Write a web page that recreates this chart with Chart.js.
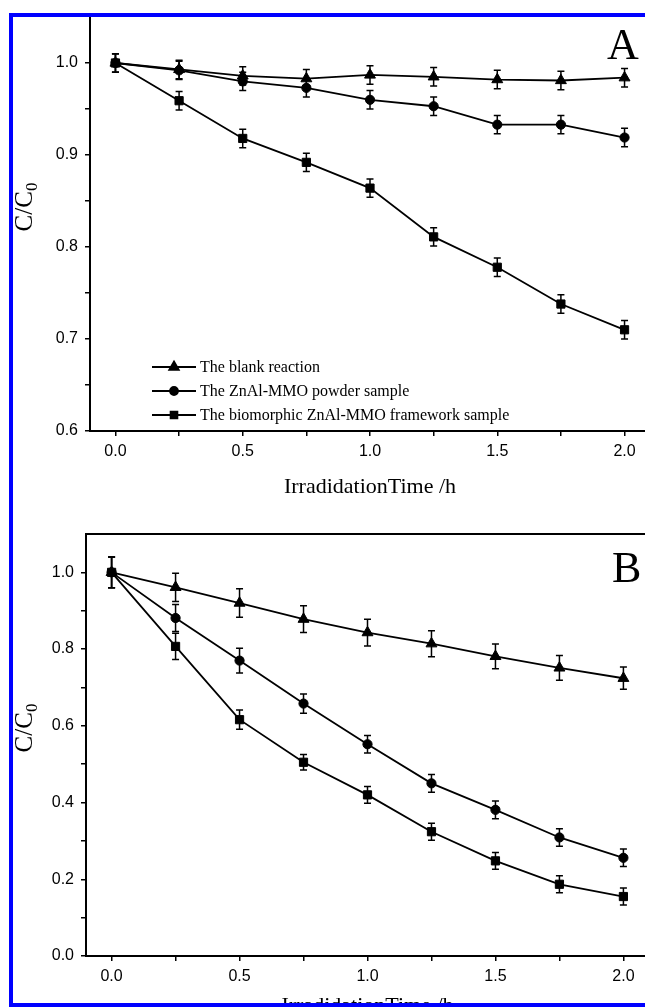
<!DOCTYPE html>
<html>
<head>
<meta charset="utf-8">
<script src="https://cdn.jsdelivr.net/npm/chart.js@4.4.1/dist/chart.umd.min.js"></script>
<style>
html, body { margin: 0; padding: 0; background: #fff; width: 645px; height: 1007px; overflow: hidden; }
canvas { position: absolute; left: 0; }
#chartA { top: 0; }
#chartB { top: 500px; }
#frame { position: absolute; left: 9px; top: 13px; width: 700px; height: 986px; border: 4px solid #0000ff; z-index: 5; pointer-events: none; }
</style>
</head>
<body>
<canvas id="chartA" width="660" height="520"></canvas>
<canvas id="chartB" width="660" height="520"></canvas>
<div id="frame"></div>
<script>
// ---- data ----
const timeH = [0, 0.25, 0.5, 0.75, 1.0, 1.25, 1.5, 1.75, 2.0];
const seriesNames = ['The blank reaction', 'The ZnAl-MMO powder sample', 'The biomorphic ZnAl-MMO framework sample'];

// panel A
const blankA  = [1.000, 0.993, 0.986, 0.983, 0.987, 0.985, 0.982, 0.981, 0.984];
const powderA = [1.000, 0.992, 0.980, 0.973, 0.960, 0.953, 0.933, 0.933, 0.919];
const bioA    = [1.000, 0.959, 0.918, 0.892, 0.864, 0.811, 0.778, 0.738, 0.710];
const errBlankA  = [0.010, 0.010, 0.010, 0.010, 0.010, 0.010, 0.010, 0.010, 0.010];
const errPowderA = [0.010, 0.010, 0.010, 0.010, 0.010, 0.010, 0.010, 0.010, 0.010];
const errBioA    = [0.010, 0.010, 0.010, 0.010, 0.010, 0.010, 0.010, 0.010, 0.010];

// panel B
const blankB  = [1.000, 0.961, 0.920, 0.878, 0.843, 0.814, 0.781, 0.751, 0.724];
const powderB = [1.000, 0.881, 0.770, 0.658, 0.552, 0.450, 0.381, 0.309, 0.256];
const bioB    = [1.000, 0.807, 0.616, 0.505, 0.420, 0.324, 0.248, 0.187, 0.155];
const errBlankB  = [0.040, 0.037, 0.037, 0.035, 0.035, 0.034, 0.032, 0.032, 0.029];
const errPowderB = [0.040, 0.035, 0.032, 0.025, 0.023, 0.023, 0.023, 0.023, 0.023];
const errBioB    = [0.040, 0.034, 0.025, 0.020, 0.022, 0.022, 0.022, 0.022, 0.022];

// ticks
const xTicks = [0, 0.25, 0.5, 0.75, 1.0, 1.25, 1.5, 1.75, 2.0];
const xTickLabels = ['0.0', '', '0.5', '', '1.0', '', '1.5', '', '2.0'];
const yTicksA = [0.6, 0.65, 0.7, 0.75, 0.8, 0.85, 0.9, 0.95, 1.0];
const yTickLabelsA = ['0.6', '', '0.7', '', '0.8', '', '0.9', '', '1.0'];
const yTicksB = [0, 0.1, 0.2, 0.3, 0.4, 0.5, 0.6, 0.7, 0.8, 0.9, 1.0];
const yTickLabelsB = ['0.0', '', '0.2', '', '0.4', '', '0.6', '', '0.8', '', '1.0'];

const markerStyles = ['triangle', 'circle', 'rect'];
const markerSizes = [6.3, 4.6, 5.8];
const legendSizes = [5.5, 4, 4.8];

// ---- decorations: error bars, legend, titles, panel letter ----
const paperDecor = {
    id: 'paperDecor',
    afterDatasetsDraw(chart, args, opts) {
        const { ctx, chartArea } = chart;
        const x = chart.scales.x, y = chart.scales.y;
        ctx.save();
        ctx.strokeStyle = '#000';
        ctx.fillStyle = '#000';

        // error bars
        ctx.lineWidth = 1.5;
        chart.data.datasets.forEach(ds => {
            ds.data.forEach((p, i) => {
                const e = ds.errors[i];
                const px = x.getPixelForValue(p.x);
                const top = y.getPixelForValue(p.y + e);
                const bot = y.getPixelForValue(p.y - e);
                ctx.beginPath();
                ctx.moveTo(px, top); ctx.lineTo(px, bot);
                ctx.moveTo(px - 3.5, top); ctx.lineTo(px + 3.5, top);
                ctx.moveTo(px - 3.5, bot); ctx.lineTo(px + 3.5, bot);
                ctx.stroke();
            });
        });

        // top frame line
        if (opts.topLine) {
            ctx.lineWidth = 2;
            ctx.beginPath();
            ctx.moveTo(chartArea.left - 1, chartArea.top);
            ctx.lineTo(chartArea.right + 1, chartArea.top);
            ctx.stroke();
        }

        // legend: line - marker - line, then text
        ctx.font = '16px "Liberation Serif"';
        ctx.textBaseline = 'middle';
        ctx.textAlign = 'left';
        chart.data.datasets.forEach((ds, i) => {
            const ly = opts.legendY + i * opts.legendGap;
            const lx = opts.legendX;
            ctx.lineWidth = 1.8;
            ctx.beginPath();
            ctx.moveTo(lx, ly); ctx.lineTo(lx + 44, ly);
            ctx.stroke();
            Chart.helpers.drawPoint(ctx, { pointStyle: markerStyles[i], radius: legendSizes[i], borderWidth: 1, rotation: 0 }, lx + 22, ly);
            ctx.fillText(ds.label, lx + 48, ly + 1);
        });

        // panel letter
        ctx.font = '44px "Liberation Serif"';
        ctx.textBaseline = 'alphabetic';
        ctx.fillText(opts.letter, opts.letterX, opts.letterY);

        // x title
        ctx.font = '22px "Liberation Serif"';
        ctx.textAlign = 'center';
        ctx.textBaseline = 'middle';
        ctx.fillText('IrradidationTime /h', (chartArea.left + chartArea.right) / 2, chartArea.bottom + opts.xTitleOffset);

        // y title C/C0 with subscript
        const cy = (chartArea.top + chartArea.bottom) / 2 - opts.yTitleShift;
        ctx.translate(opts.yTitleX, cy);
        ctx.rotate(-Math.PI / 2);
        ctx.textAlign = 'left';
        ctx.textBaseline = 'alphabetic';
        ctx.font = '25px "Liberation Serif"';
        const w1 = ctx.measureText('C/C').width;
        ctx.font = '17px "Liberation Serif"';
        const w2 = ctx.measureText('0').width;
        const start = -(w1 + w2) / 2;
        ctx.font = '25px "Liberation Serif"';
        ctx.fillText('C/C', start, 8);
        ctx.font = '17px "Liberation Serif"';
        ctx.fillText('0', start + w1, 13);
        ctx.restore();
    }
};

function makeDatasets(seriesList, errList) {
    return seriesList.map((vals, i) => ({
        label: seriesNames[i],
        data: timeH.map((t, j) => ({ x: t, y: vals[j] })),
        errors: errList[i],
        borderColor: '#000',
        backgroundColor: '#000',
        borderWidth: 1.8,
        tension: 0,
        pointStyle: markerStyles[i],
        pointRadius: markerSizes[i],
        pointBorderWidth: 1,
        pointBackgroundColor: '#000',
        pointBorderColor: '#000'
    }));
}

function makeChart(id, datasets, cfg) {
    const tickFont = { family: '"Liberation Sans"', size: 16 };
    return new Chart(document.getElementById(id), {
        type: 'line',
        data: { datasets: datasets },
        options: {
            responsive: false,
            animation: false,
            layout: { autoPadding: false, padding: { top: cfg.padTop, right: cfg.padRight, bottom: 0, left: 0 } },
            plugins: {
                legend: { display: false },
                tooltip: { enabled: false },
                paperDecor: cfg.decor
            },
            scales: {
                x: {
                    type: 'linear',
                    min: -0.1,
                    max: 2.1,
                    afterBuildTicks: s => { s.ticks = xTicks.map(v => ({ value: v })); },
                    afterFit: s => { s.height = cfg.xHeight; },
                    ticks: { color: '#000', font: tickFont, padding: 6, maxRotation: 0, autoSkip: false,
                             callback: (v, i) => xTickLabels[i] },
                    grid: { drawOnChartArea: false, drawTicks: true, tickLength: 5, color: '#000', lineWidth: 1.5 },
                    border: { display: true, color: '#000', width: 2 }
                },
                y: {
                    min: cfg.yMin,
                    max: cfg.yMax,
                    afterBuildTicks: s => { s.ticks = cfg.yTicks.map(v => ({ value: v })); },
                    afterFit: s => { s.width = cfg.yWidth; },
                    ticks: { color: '#000', font: tickFont, padding: 7, autoSkip: false,
                             callback: (v, i) => cfg.yLabels[i] },
                    grid: { drawOnChartArea: false, drawTicks: true, tickLength: 5, color: '#000', lineWidth: 1.5 },
                    border: { display: true, color: '#000', width: 2 }
                }
            }
        },
        plugins: [paperDecor]
    });
}

makeChart('chartA',
    makeDatasets([blankA, powderA, bioA], [errBlankA, errPowderA, errBioA]),
    {
        padTop: 17, padRight: 10, xHeight: 89, yWidth: 90,
        yMin: 0.6, yMax: 1.05, yTicks: yTicksA, yLabels: yTickLabelsA,
        decor: { legendX: 152, legendY: 367, legendGap: 24, letter: 'A', letterX: 607, letterY: 59,
                 xTitleOffset: 56, yTitleX: 24, yTitleShift: 17, topLine: false }
    });

makeChart('chartB',
    makeDatasets([blankB, powderB, bioB], [errBlankB, errPowderB, errBioB]),
    {
        padTop: 34, padRight: 11, xHeight: 64, yWidth: 86,
        yMin: 0, yMax: 1.1, yTicks: yTicksB, yLabels: yTickLabelsB,
        decor: { legendX: 147, legendY: 894, legendGap: 22.5, letter: 'B', letterX: 612, letterY: 82,
                 xTitleOffset: 50, yTitleX: 24, yTitleShift: 17, topLine: true }
    });
</script>
</body>
</html>
